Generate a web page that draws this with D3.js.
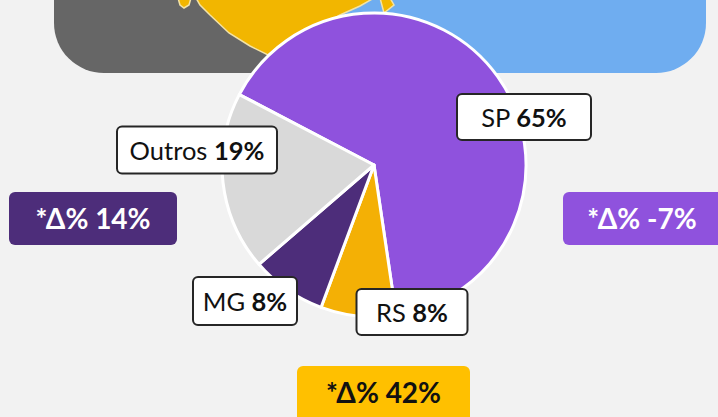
<!DOCTYPE html>
<html>
<head>
<style>
body { margin: 0; background: #f2f2f2; }
#chart { width: 718px; height: 417px; display: block; }
text { font-family: Lato, "Open Sans", sans-serif; }
</style>
</head>
<body>
<svg id="chart" width="718" height="417"></svg>
<script src="https://d3js.org/d3.v7.min.js"></script>
<script>
// data
const regions = ["SP", "RS", "MG", "Outros"];
const shares = [65, 8, 8, 19];
const sliceColors = ["#8f52dd", "#f4b005", "#4d2d7a", "#d9d9d9"];
const deltaLabels = ["*Δ% 14%", "*Δ% -7%", "*Δ% 42%"];
const deltaColors = ["#4d2d7a", "#8f52dd", "#ffc000"];
const deltaText = ["#ffffff", "#ffffff", "#111111"];

// layout
const cx = 374, cy = 165, radius = 152;
const labelBoxes = {
    SP: {x: 524, y: 117, w: 134, h: 46},
    RS: {x: 412, y: 312, w: 111, h: 46},
    MG: {x: 245, y: 301, w: 104, h: 48},
    Outros: {x: 197, y: 150, w: 160, h: 47}
};
const deltaBoxes = [
    {x: 9, y: 192, w: 168, h: 53},
    {x: 563, y: 192, w: 170, h: 53},
    {x: 297, y: 366, w: 173, h: 70}
];

const svg = d3.select("#chart");

// backdrop shapes at the top
svg.append("rect").attr("x", 54).attr("y", -60).attr("width", 380).attr("height", 133)
    .attr("rx", 50).attr("fill", "#666666");
svg.append("rect").attr("x", 340).attr("y", -60).attr("width", 366).attr("height", 133)
    .attr("rx", 50).attr("fill", "#6fadf0");
svg.append("path")
    .attr("d", "M178,-2 L180,5 L184,8 L189,5 L191,-2 Z")
    .attr("fill", "#f2b600").attr("stroke", "#f3e3a6").attr("stroke-width", 1.5);
svg.append("path")
    .attr("d", "M196,-2 L200,5 L210,15 L229,33 L250,46 L268,55 L300,38 L340,15 L360,6 L374,-2 Z")
    .attr("fill", "#f2b600").attr("stroke", "#f3e3a6").attr("stroke-width", 1.5);
svg.append("path")
    .attr("d", "M380,-2 L390,-2 L394,5 L384,13 Z")
    .attr("fill", "#f2b600").attr("stroke", "#f3e3a6").attr("stroke-width", 1.5);

// pie
const startA = -62.4 * Math.PI / 180;
const pie = d3.pie().sort(null).startAngle(startA).endAngle(startA + 2 * Math.PI);
const arc = d3.arc().innerRadius(0).outerRadius(radius);
const arcs = pie(shares);

const g = svg.append("g").attr("transform", `translate(${cx},${cy})`);
g.selectAll("path.slice")
    .data(arcs)
    .join("path")
    .attr("class", "slice")
    .attr("d", arc)
    .attr("fill", (d, i) => sliceColors[i])
    .attr("stroke", "#ffffff")
    .attr("stroke-width", 3)
    .attr("stroke-linejoin", "round");

// slice labels
const lab = svg.selectAll("g.lab")
    .data(regions)
    .join("g")
    .attr("class", "lab")
    .attr("transform", d => `translate(${labelBoxes[d].x},${labelBoxes[d].y})`);
lab.append("rect")
    .attr("x", d => -labelBoxes[d].w / 2)
    .attr("y", d => -labelBoxes[d].h / 2)
    .attr("width", d => labelBoxes[d].w)
    .attr("height", d => labelBoxes[d].h)
    .attr("rx", 5)
    .attr("fill", "#ffffff")
    .attr("stroke", "#262626")
    .attr("stroke-width", 2);
const lt = lab.append("text")
    .attr("text-anchor", "middle")
    .attr("y", 9.5)
    .attr("font-size", 25.5)
    .attr("fill", "#111111");
lt.append("tspan").text(d => d + " ");
lt.append("tspan").attr("font-weight", "bold").text((d, i) => shares[i] + "%");

// delta boxes
const del = svg.selectAll("g.delta")
    .data(deltaLabels)
    .join("g")
    .attr("class", "delta");
del.append("rect")
    .attr("x", (d, i) => deltaBoxes[i].x)
    .attr("y", (d, i) => deltaBoxes[i].y)
    .attr("width", (d, i) => deltaBoxes[i].w)
    .attr("height", (d, i) => deltaBoxes[i].h)
    .attr("rx", 6)
    .attr("fill", (d, i) => deltaColors[i]);
del.append("text")
    .attr("x", (d, i) => i === 1 ? 642 : deltaBoxes[i].x + deltaBoxes[i].w / 2)
    .attr("y", (d, i) => i === 2 ? 403 : 229)
    .attr("text-anchor", "middle")
    .attr("font-size", 28)
    .attr("font-weight", "bold")
    .attr("fill", (d, i) => deltaText[i])
    .text(d => d);
</script>
</body>
</html>
